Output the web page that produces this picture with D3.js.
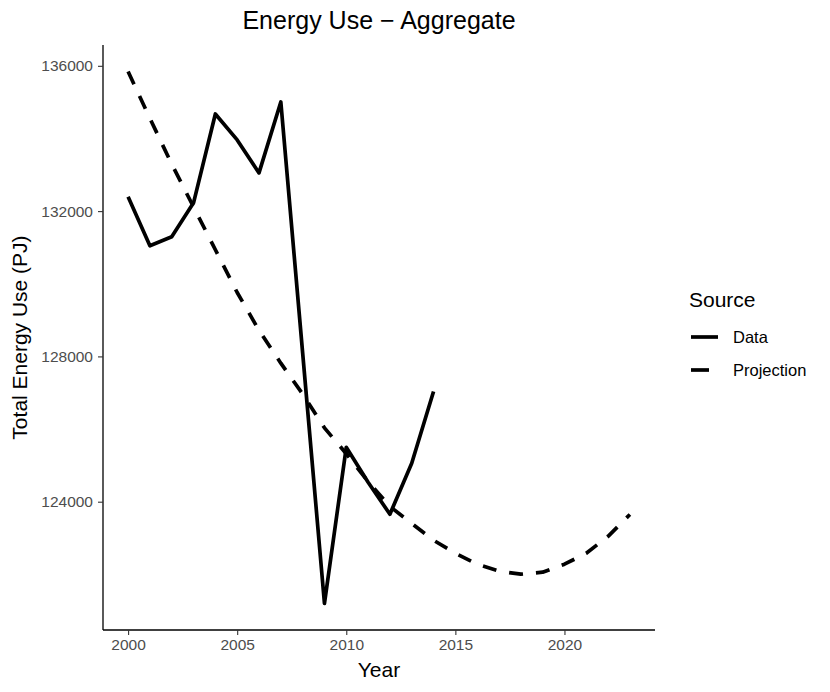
<!DOCTYPE html>
<html>
<head>
<meta charset="utf-8">
<script src="https://cdn.jsdelivr.net/npm/d3@7"></script>
<style>
body { margin: 0; background: #fff; }
text { font-family: "Liberation Sans", Arial, sans-serif; }
</style>
</head>
<body>
<script>
var width = 830,
    height = 692;

// observed data
var dataYears = [2000,2001,2002,2003,2004,2005,2006,2007,2008,2009,2010,2011,2012,2013,2014];
var dataValues = [132393,131045,131293,132228,134675,133960,133052,135005,128100,121200,125497,124534,123655,125057,127036];

// projection
var projYears = [2000,2001,2002,2003,2004,2005,2006,2007,2008,2009,2010,2011,2012,2013,2014,2015,2016,2017,2018,2019,2020,2021,2022,2023];
var projValues = [135841,134553,133293,132115,130937,129759,128718,127814,126964,126033,125321,124553,123868,123403,122937,122581,122279,122088,122005,122060,122279,122581,123047,123649];

var xTicks = [2000,2005,2010,2015,2020];
var yTicks = [124000,128000,132000,136000];
var legendLabels = ["Data","Projection"];

var margin = {left: 103, right: 175, top: 45, bottom: 62};

var svg = d3.select("body").append("svg")
    .attr("width", width)
    .attr("height", height);

// ggplot style 5% expansion
var xMin = d3.min(projYears.concat(dataYears)), xMax = d3.max(projYears.concat(dataYears));
var xPad = (xMax - xMin)*0.05;
var allV = dataValues.concat(projValues);
var yMin = d3.min(allV), yMax = d3.max(allV);
var yPad = (yMax - yMin)*0.05;

var x = d3.scaleLinear()
    .domain([xMin - xPad, xMax + xPad])
    .range([margin.left, width - margin.right]);

var y = d3.scaleLinear()
    .domain([yMin - yPad, yMax + yPad])
    .range([height - margin.bottom, margin.top]);

var series = [
    {name: "Data", pts: dataYears.map(function(d,i){ return [d, dataValues[i]]; }), dash: null},
    {name: "Projection", pts: projYears.map(function(d,i){ return [d, projValues[i]]; }), dash: "14,13"}
];

var line = d3.line()
    .x(function(d){ return x(d[0]); })
    .y(function(d){ return y(d[1]); });

svg.selectAll(".series")
    .data(series)
    .enter().append("path")
    .attr("class", "series")
    .attr("d", function(d){ return line(d.pts); })
    .attr("fill", "none")
    .attr("stroke", "#000")
    .attr("stroke-width", 3.7)
    .attr("stroke-linejoin", "round")
    .attr("stroke-dasharray", function(d){ return d.dash; });

// axes
var xAxis = svg.append("g")
    .attr("transform", "translate(0," + (height - margin.bottom) + ")")
    .call(d3.axisBottom(x).tickValues(xTicks).tickFormat(d3.format("d")).tickSizeOuter(0).tickSize(5).tickPadding(4));

var yAxis = svg.append("g")
    .attr("transform", "translate(" + margin.left + ",0)")
    .call(d3.axisLeft(y).tickValues(yTicks).tickFormat(d3.format("d")).tickSizeOuter(0).tickSize(5).tickPadding(5));

[xAxis, yAxis].forEach(function(ax){
    ax.select(".domain").attr("stroke", "#000").attr("stroke-width", 1.3);
    ax.selectAll(".tick line").attr("stroke", "#333").attr("stroke-width", 1.1);
    ax.selectAll(".tick text").attr("fill", "#4d4d4d").style("font-size", "15.5px")
        .style("font-family", "'Liberation Sans', Arial, sans-serif");
});
// extend axis lines to meet at corner
xAxis.select(".domain").attr("d", "M" + margin.left + ",0H" + (width - margin.right));
yAxis.select(".domain").attr("d", "M0," + margin.top + "V" + (height - margin.bottom));

var plotMid = (margin.left + width - margin.right)/2;

svg.append("text")
    .attr("x", plotMid)
    .attr("y", 29)
    .attr("text-anchor", "middle")
    .style("font-size", "25px")
    .text("Energy Use \u2212 Aggregate");

svg.append("text")
    .attr("x", plotMid)
    .attr("y", 677)
    .attr("text-anchor", "middle")
    .style("font-size", "21px")
    .text("Year");

svg.append("text")
    .attr("transform", "translate(27," + ((margin.top + height - margin.bottom)/2) + ") rotate(-90)")
    .attr("text-anchor", "middle")
    .style("font-size", "21px")
    .text("Total Energy Use (PJ)");

// legend
var legend = svg.append("g").attr("transform", "translate(689,0)");
legend.append("text")
    .attr("x", 0)
    .attr("y", 307)
    .style("font-size", "21px")
    .text("Source");

var items = legend.selectAll(".item")
    .data(series)
    .enter().append("g")
    .attr("class", "item")
    .attr("transform", function(d,i){ return "translate(0," + (337 + i*33) + ")"; });

items.append("line")
    .attr("x1", 2).attr("x2", 29)
    .attr("stroke", "#000")
    .attr("stroke-width", 3.7)
    .attr("stroke-dasharray", function(d){ return d.dash ? "18,20" : null; });

items.append("text")
    .attr("x", 44)
    .attr("y", 6)
    .style("font-size", "16.5px")
    .text(function(d,i){ return legendLabels[i]; });
</script>
</body>
</html>
